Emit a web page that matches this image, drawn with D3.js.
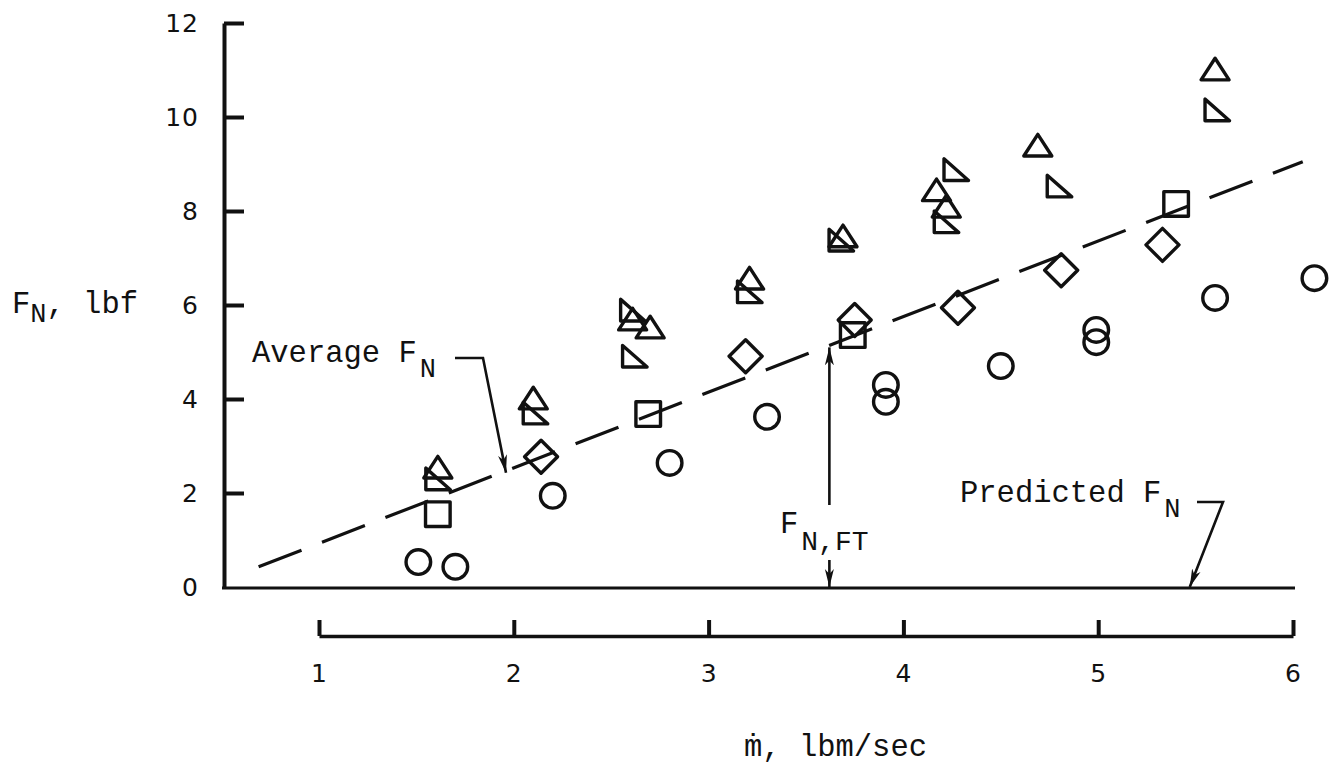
<!DOCTYPE html>
<html>
<head>
<meta charset="utf-8">
<script src="https://cdn.jsdelivr.net/npm/d3@7"></script>
<style>
  html, body { margin: 0; padding: 0; background: #fff; }
  svg { display: block; }
  .mono { font-family: "Liberation Mono", "DejaVu Sans Mono", monospace; fill: #111; }
  .tick text { font-family: "DejaVu Sans", sans-serif; fill: #111; letter-spacing: 1px; }
</style>
</head>
<body>
<svg id="chart" width="1337" height="771"></svg>
<script>
// Net thrust F_N (lbf) plotted against mass flow rate (lbm/sec).
const yTicks = [0, 2, 4, 6, 8, 10, 12];
const xTicks = [1, 2, 3, 4, 5, 6];

// Measured points, one pair of arrays per symbol.
const circleFlow     = [1.51, 1.70, 2.20, 2.80, 3.30, 3.91, 3.91, 4.50, 4.99, 4.99, 5.60, 6.11];
const circleThrust   = [0.53, 0.43, 1.94, 2.64, 3.62, 4.30, 3.94, 4.70, 5.47, 5.21, 6.15, 6.57];
const squareFlow     = [1.61, 2.69, 3.74, 5.40];
const squareThrust   = [1.55, 3.68, 5.36, 8.15];
const diamondFlow    = [2.14, 3.19, 3.75, 4.28, 4.81, 5.33];
const diamondThrust  = [2.77, 4.91, 5.68, 5.94, 6.74, 7.28];
const triangleFlow   = [1.61, 2.10, 2.61, 2.70, 3.21, 3.69, 4.17, 4.22, 4.69, 5.60];
const triangleThrust = [2.55, 4.02, 5.70, 5.53, 6.57, 7.47, 8.45, 8.10, 9.40, 11.02];
const flagFlow       = [1.61, 2.11, 2.61, 2.62, 3.21, 3.68, 4.27, 4.22, 4.80, 5.61];
const flagThrust     = [2.30, 3.70, 5.89, 4.91, 6.28, 7.38, 8.88, 7.77, 8.53, 10.15];

// Average F_N line (dashed).
const averageFlow   = [0.69, 6.05];
const averageThrust = [0.43, 9.05];

const svg = d3.select("#chart");

const x = d3.scaleLinear().domain([1, 6]).range([319, 1293]);
const y = d3.scaleLinear().domain([0, 12]).range([587, 23]);
const yAxisX = 224;
const xAxisY = 636;

// Arrowhead
svg.append("defs").append("marker")
  .attr("id", "head")
  .attr("viewBox", "-18 -6 19 12")
  .attr("refX", 0).attr("refY", 0)
  .attr("markerWidth", 19).attr("markerHeight", 12)
  .attr("markerUnits", "userSpaceOnUse")
  .attr("orient", "auto")
  .append("path")
  .attr("d", "M0,0L-18,-4.5L-13,0L-18,4.5Z")
  .attr("fill", "#111");

// Y axis: ticks point into the plot, labels on the left
const yAxis = d3.axisLeft(y).tickValues(yTicks).tickFormat(d3.format("d"))
  .tickSizeInner(-20).tickSizeOuter(0).tickPadding(25);
const gy = svg.append("g").attr("transform", `translate(${yAxisX},0)`).call(yAxis);
gy.select(".domain").attr("stroke", "#111").attr("stroke-width", 4);
gy.selectAll(".tick line").attr("stroke", "#111").attr("stroke-width", 4)
  .filter(d => d === 0).remove();
gy.selectAll(".tick text").attr("font-size", 25);

// Zero line across the plot
svg.append("line")
  .attr("x1", yAxisX - 2).attr("x2", x(6) + 2)
  .attr("y1", y(0) + 1).attr("y2", y(0) + 1)
  .attr("stroke", "#111").attr("stroke-width", 3);

// Separate flow-rate scale below the plot
const xAxis = d3.axisBottom(x).tickValues(xTicks).tickFormat(d3.format("d"))
  .tickSizeInner(-16).tickSizeOuter(0).tickPadding(28);
const gx = svg.append("g").attr("transform", `translate(0,${xAxisY})`).call(xAxis);
gx.select(".domain").attr("stroke", "#111").attr("stroke-width", 3.5);
gx.selectAll(".tick line").attr("stroke", "#111").attr("stroke-width", 4);
gx.selectAll(".tick text").attr("font-size", 25);

// Axis titles
const yTitle = svg.append("text").attr("class", "mono")
  .attr("x", 12).attr("y", 313).attr("font-size", 30.5);
yTitle.append("tspan").text("F");
yTitle.append("tspan").attr("font-size", 27).attr("dy", 9).text("N");
yTitle.append("tspan").attr("dy", -9).text(", lbf");

svg.append("text").attr("class", "mono")
  .attr("x", 744).attr("y", 756).attr("font-size", 30.5)
  .text("ṁ, lbm/sec");

// Average line
const line = d3.line().x(d => x(d[0])).y(d => y(d[1]));
svg.append("path")
  .datum(d3.zip(averageFlow, averageThrust))
  .attr("d", line)
  .attr("fill", "none").attr("stroke", "#111").attr("stroke-width", 3.2)
  .attr("stroke-dasharray", "46 22");

// Symbols
const shapes = {
  circle:   "M12.3,0A12.3,12.3 0 1,1 -12.3,0A12.3,12.3 0 1,1 12.3,0Z",
  square:   "M-12.3,-12.3H12.3V12.3H-12.3Z",
  diamond:  "M0,-16.5L16.5,0L0,16.5L-16.5,0Z",
  triangle: "M0,-10.8L14,10.8L-14,10.8Z",
  flag:     "M-12,-10.8L-12,10.8L12.5,10.8Z"
};
const series = [
  ["circle", circleFlow, circleThrust],
  ["square", squareFlow, squareThrust],
  ["diamond", diamondFlow, diamondThrust],
  ["triangle", triangleFlow, triangleThrust],
  ["flag", flagFlow, flagThrust]
];
series.forEach(([shape, flow, thrust]) => {
  svg.append("g").selectAll("path")
    .data(d3.zip(flow, thrust))
    .join("path")
    .attr("transform", d => `translate(${x(d[0])},${y(d[1])})`)
    .attr("d", shapes[shape])
    .attr("fill", "none").attr("stroke", "#111")
    .attr("stroke-width", 3.4).attr("stroke-linejoin", "round");
});

// Annotations
function subLabel(px, py, main, sub, subSize, drop) {
  const t = svg.append("text").attr("class", "mono")
    .attr("x", px).attr("y", py).attr("font-size", 30.5);
  t.append("tspan").text(main);
  t.append("tspan").attr("font-size", subSize).attr("dy", drop).attr("dx", 3).text(sub);
  return t;
}
const lead = d3.line();

// Average F_N
subLabel(252, 362, "Average F", "N", 27, 15);
const avgTipM = 1.96;
svg.append("path")
  .attr("d", lead([[455, 358], [483, 358], [x(avgTipM), y(1.608 * avgTipM - 0.68) + 2]]))
  .attr("fill", "none").attr("stroke", "#111").attr("stroke-width", 2.6)
  .attr("marker-end", "url(#head)");

// F_N,FT
const ftM = 3.62;
subLabel(780, 533, "F", "N,FT", 28, 17);
svg.append("path")
  .attr("d", lead([[x(ftM), 505], [x(ftM), y(1.608 * ftM - 0.68) + 2]]))
  .attr("fill", "none").attr("stroke", "#111").attr("stroke-width", 2.6)
  .attr("marker-end", "url(#head)");
svg.append("path")
  .attr("d", lead([[x(ftM), 560], [x(ftM), y(0)]]))
  .attr("fill", "none").attr("stroke", "#111").attr("stroke-width", 2.6)
  .attr("marker-end", "url(#head)");

// Predicted F_N
subLabel(960, 502, "Predicted F", "N", 27, 15);
svg.append("path")
  .attr("d", lead([[1197, 502], [1223, 502], [x(5.47), y(0)]]))
  .attr("fill", "none").attr("stroke", "#111").attr("stroke-width", 2.6)
  .attr("marker-end", "url(#head)");
</script>
</body>
</html>
